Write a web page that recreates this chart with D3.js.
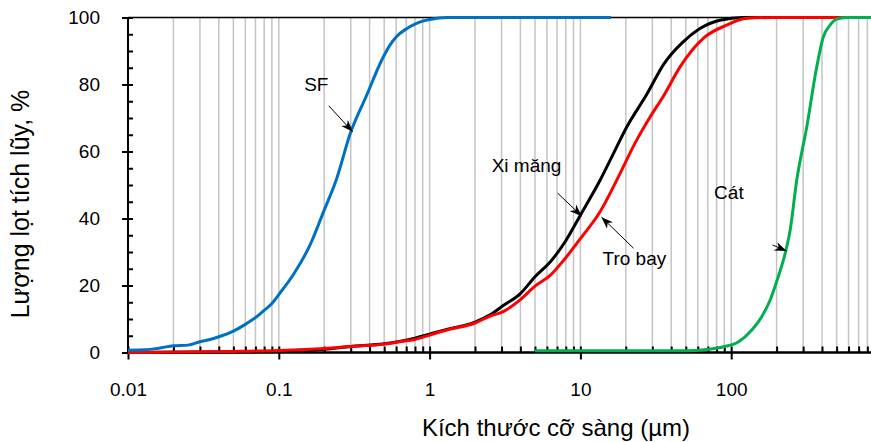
<!DOCTYPE html>
<html>
<head>
<meta charset="utf-8">
<script src="https://cdn.jsdelivr.net/npm/d3@7/dist/d3.min.js"></script>
<style>
  html, body { margin: 0; padding: 0; background: #fff; }
  svg { display: block; font-family: "Liberation Sans", Arial, sans-serif; }
</style>
</head>
<body>
<svg id="chart" width="871" height="442"></svg>
<script>
// Cumulative passing (%) versus sieve size (µm) for four materials
const sfSize   = [0.01, 0.013, 0.016, 0.02, 0.025, 0.03, 0.035, 0.04, 0.05, 0.06, 0.07, 0.08, 0.09, 0.1, 0.125, 0.16, 0.2, 0.24, 0.3, 0.38, 0.49, 0.55, 0.6, 0.7, 0.8, 0.9, 1.0, 1.3, 16];
const sfPass   = [0.7, 0.8, 1.3, 2.0, 2.2, 3.2, 3.9, 4.7, 6.4, 8.4, 10.4, 12.6, 14.6, 17.3, 23.3, 31.8, 42.5, 51.4, 65.8, 76.5, 88.0, 92.0, 94.2, 96.6, 98.0, 98.9, 99.4, 100, 100];

const cemSize  = [0.01, 0.1, 0.2, 0.3, 0.5, 0.63, 0.8, 1.0, 1.3, 2.0, 2.5, 3.1, 4.0, 5.0, 6.3, 7.9, 10, 13.5, 16, 20.3, 27.5, 36, 48, 62, 84, 120, 1000];
const cemPass  = [0, 0.3, 1.0, 1.8, 2.6, 3.3, 4.3, 5.5, 6.9, 9.1, 11.2, 14.1, 17.6, 22.6, 27, 33, 41, 51.4, 58, 67.3, 77, 86.3, 92.7, 96.7, 99.2, 100, 100];

const ashSize  = [0.01, 0.05, 0.1, 0.2, 0.3, 0.5, 0.63, 0.8, 1.0, 1.3, 2.0, 2.5, 3.1, 4.0, 5.0, 6.3, 7.9, 10, 13.5, 17.4, 23.6, 29, 35.5, 45.7, 67, 93, 124, 190, 1000];
const ashPass  = [0, 0.3, 0.6, 1.2, 1.8, 2.5, 3.2, 3.9, 5.2, 6.7, 8.8, 10.8, 12.3, 15.8, 19.8, 23, 28, 34, 42, 51.4, 63.4, 70.3, 76.5, 85.2, 94.2, 97.7, 99.7, 100, 100];

const sandSize = [5, 29, 51, 69, 89, 112, 137, 159, 181, 205, 228, 246, 272, 317, 369, 408, 452, 500, 583, 1000];
const sandPass = [0.5, 0.5, 0.5, 0.9, 1.7, 3.2, 6.7, 10.6, 15.6, 22.6, 29.6, 36.5, 51.4, 67.3, 85.2, 94.2, 97.7, 99.5, 100, 100];

const seriesNames = ["SF", "Xi măng", "Tro bay", "Cát"];

const xTickValues = [0.01, 0.1, 1, 10, 100];
const xTickLabels = ["0.01", "0.1", "1", "10", "100"];
const yTickValues = [0, 20, 40, 60, 80, 100];
const yTickLabels = ["0", "20", "40", "60", "80", "100"];

const xTitle = "Kích thước cỡ sàng (µm)";
const yTitle = "Lượng lọt tích lũy, %";

const svg = d3.select("#chart");
const plotLeft = 128, plotRight = 882, plotTop = 17.5, plotBottom = 352.5;

const x = d3.scaleLog().domain([0.01, 1000]).range([plotLeft, plotRight]);
const y = d3.scaleLinear().domain([0, 100]).range([plotBottom, plotTop]);

// vertical grid at every 1..9 × 10^k
const gridVals = [];
for (let k = -2; k <= 2; k++) {
  for (let m = 1; m <= 9; m++) {
    const v = +(m * Math.pow(10, k)).toPrecision(6);
    if (v > 0.01 && v < 1000) gridVals.push(v);
  }
}
svg.append("g").selectAll("line").data(gridVals).join("line")
  .attr("x1", d => x(d)).attr("x2", d => x(d))
  .attr("y1", plotTop).attr("y2", plotBottom)
  .attr("stroke", "#c4c4c4").attr("stroke-width", 1.5);

// frame top
svg.append("line").attr("x1", plotLeft).attr("x2", plotRight).attr("y1", plotTop).attr("y2", plotTop)
  .attr("stroke", "#000").attr("stroke-width", 1.5);

// x axis: minor ticks inside, major ticks crossing
const xMinor = gridVals.filter(v => !xTickValues.includes(v));
const gx = svg.append("g").attr("transform", `translate(0,${plotBottom})`);
gx.call(d3.axisBottom(x).tickValues(xMinor).tickSize(-6).tickFormat(""));
const gx2 = svg.append("g").attr("transform", `translate(0,${plotBottom})`);
gx2.call(d3.axisBottom(x).tickValues(xTickValues).tickSize(7).tickPadding(23)
  .tickFormat((d, i) => xTickLabels[i]));
gx2.selectAll(".tick line").attr("y1", -6);
[gx, gx2].forEach(g => {
  g.selectAll(".tick line").attr("stroke", "#000").attr("stroke-width", 2);
  g.select(".domain").attr("stroke", "#000").attr("stroke-width", 2).attr("d", `M${plotLeft},0H${plotRight}`);
  g.selectAll("text").attr("font-size", 19).attr("fill", "#000");
  g.attr("font-family", null);
});

// y axis: minor every 5 inside, major crossing
const yMinor = d3.range(5, 100, 5).filter(v => v % 20 !== 0);
const gy = svg.append("g").attr("transform", `translate(${plotLeft},0)`);
gy.call(d3.axisLeft(y).tickValues(yMinor).tickSize(-5).tickFormat(""));
const gy2 = svg.append("g").attr("transform", `translate(${plotLeft},0)`);
gy2.call(d3.axisLeft(y).tickValues(yTickValues).tickSize(6).tickPadding(22)
  .tickFormat((d, i) => yTickLabels[i]));
gy2.selectAll(".tick line").attr("x1", 5);
[gy, gy2].forEach(g => {
  g.selectAll(".tick line").attr("stroke", "#000").attr("stroke-width", 2);
  g.select(".domain").attr("stroke", "#000").attr("stroke-width", 2).attr("d", `M0,${plotBottom}V${plotTop}`);
  g.selectAll("text").attr("font-size", 19).attr("fill", "#000");
  g.attr("font-family", null);
});

// axis titles
svg.append("text").attr("x", 556).attr("y", 436).attr("text-anchor", "middle")
  .attr("font-size", 24).text(xTitle);
svg.append("text").attr("transform", `translate(29,204) rotate(-90)`).attr("text-anchor", "middle")
  .attr("font-size", 25).text(yTitle);

// curves
const line = d3.line().x(d => x(d[0])).y(d => y(d[1])).curve(d3.curveMonotoneX);
const curves = [
  { size: cemSize,  pass: cemPass,  color: "#000000" },
  { size: ashSize,  pass: ashPass,  color: "#ff0000" },
  { size: sfSize,   pass: sfPass,   color: "#0070c0" },
  { size: sandSize, pass: sandPass, color: "#00b050" }
];
svg.append("g").selectAll("path").data(curves).join("path")
  .attr("d", c => line(c.size.map((s, i) => [s, c.pass[i]])))
  .attr("fill", "none").attr("stroke", c => c.color).attr("stroke-width", 3)
  .attr("stroke-linejoin", "round");

// labels with arrows pointing at the curves
svg.append("defs").append("marker")
  .attr("id", "head").attr("viewBox", "-12 -5 13 10")
  .attr("refX", 0).attr("refY", 0)
  .attr("markerWidth", 13).attr("markerHeight", 10)
  .attr("markerUnits", "userSpaceOnUse").attr("orient", "auto")
  .append("path").attr("d", "M0,0 L-12,-4.5 L-8.5,0 L-12,4.5 Z").attr("fill", "#000");

const notes = [
  { name: seriesNames[0], tip: [0.309, 65.9], tail: [-24, -26], text: [-48.5, -41] },
  { name: seriesNames[1], tip: [10.2, 40.7],  tail: [-24, -23], text: [-90, -44] },
  { name: seriesNames[2], tip: [13.8, 40.4],  tail: [32, 31],   text: [1, 48] },
  { name: seriesNames[3], tip: [233, 30.3],   tail: [-14, -6],  text: [-72.5, -52] }
];
const ann = svg.append("g");
notes.forEach(n => {
  const tx = x(n.tip[0]), ty = y(n.tip[1]);
  ann.append("line")
    .attr("x1", tx + n.tail[0]).attr("y1", ty + n.tail[1])
    .attr("x2", tx).attr("y2", ty)
    .attr("stroke", "#000").attr("stroke-width", 1)
    .attr("marker-end", "url(#head)");
  ann.append("text").attr("x", tx + n.text[0]).attr("y", ty + n.text[1])
    .attr("font-size", 19).text(n.name);
});
</script>
</body>
</html>
